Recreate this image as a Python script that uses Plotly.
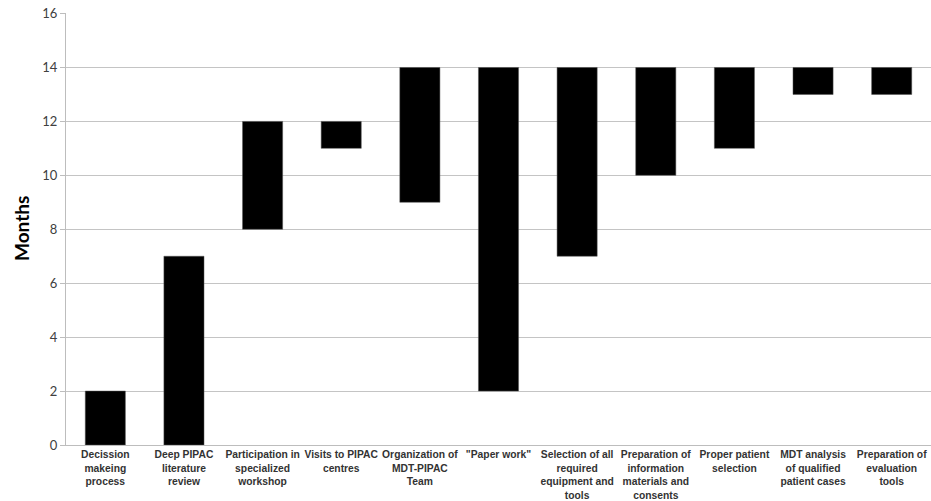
import plotly.graph_objects as go

categories = [
    "Decission<br>makeing<br>process",
    "Deep PIPAC<br>literature<br>review",
    "Participation in<br>specialized<br>workshop",
    "Visits to PIPAC<br>centres",
    "Organization of<br>MDT-PIPAC<br>Team",
    "\"Paper work\"",
    "Selection of all<br>required<br>equipment and<br>tools",
    "Preparation of<br>information<br>materials and<br>consents",
    "Proper patient<br>selection",
    "MDT analysis<br>of qualified<br>patient cases",
    "Preparation of<br>evaluation<br>tools",
]
start_month = [0, 0, 8, 11, 9, 2, 7, 10, 11, 13, 13]
end_month = [2, 7, 12, 12, 14, 14, 14, 14, 14, 14, 14]
y_ticks = [0, 2, 4, 6, 8, 10, 12, 14, 16]
y_title = "Months"

durations = [e - s for s, e in zip(start_month, end_month)]

fig = go.Figure()
fig.add_trace(go.Bar(
    x=categories,
    y=durations,
    base=start_month,
    marker=dict(color="black", line=dict(color="#555555", width=0.5)),
    width=0.51,
    hoverinfo="skip",
))

fig.update_layout(
    width=931, height=501,
    margin=dict(l=66, r=0, t=13, b=56),
    paper_bgcolor="white",
    plot_bgcolor="white",
    showlegend=False,
    xaxis=dict(
        showline=True, linecolor="#bdbdbd", linewidth=1,
        showgrid=False, ticks="",
        tickangle=0, automargin=False,
        tickfont=dict(family="Liberation Sans, Arial", size=10.3, color="#333333", weight="bold"),
    ),
    yaxis=dict(
        range=[0, 16.02], tickvals=y_ticks, automargin=False,
        showline=True, linecolor="#bdbdbd", linewidth=1,
        showgrid=True, gridcolor="#c4c4c4", gridwidth=1,
        ticks="outside", ticklen=5, tickcolor="#bdbdbd",
        tickfont=dict(family="Lato, Carlito, sans-serif", size=13, color="#404040"),
        zeroline=False,
    ),
    annotations=[dict(
        text=y_title, textangle=-90, showarrow=False,
        xref="paper", yref="paper", x=-0.052, y=0.5,
        xanchor="center", yanchor="middle",
        font=dict(family="Lato, Carlito, sans-serif", size=19, color="black", weight="bold"),
    )],
)

fig.write_html(
    "out.html",
    config={"displayModeBar": False},
    post_script="document.body.style.margin='0';document.body.style.overflow='hidden';",
)
